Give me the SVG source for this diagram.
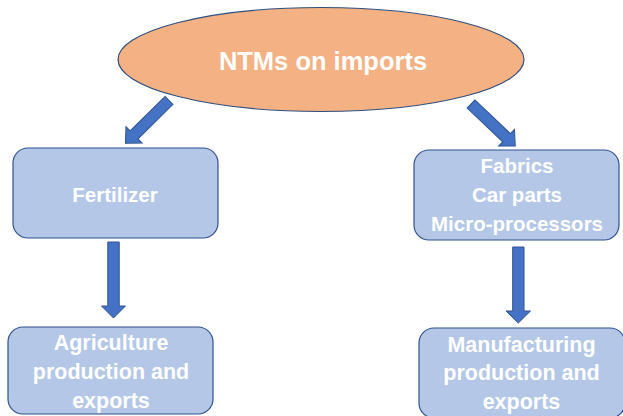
<svg xmlns="http://www.w3.org/2000/svg" width="623" height="416" viewBox="0 0 623 416">
<style>
.box{fill:#B4C7E7;stroke:#2F528F;stroke-width:1.2}
.arr{fill:#4472C4;stroke:#2F528F;stroke-width:1}
.t{font-family:"Liberation Sans",Arial,sans-serif;font-weight:bold;fill:#FFFFFF;text-anchor:middle}
</style>
<defs>
<path id="diag" d="M0,-5.6 L49,-5.6 L49,-11.5 L61,0 L49,11.5 L49,5.6 L0,5.6 Z"/>
</defs>
<rect width="623" height="416" fill="#FFFFFF"/>
<g id="ntms">
<ellipse cx="321" cy="59.5" rx="203" ry="52" fill="#F4B183" stroke="#2F4F7F" stroke-width="1.2"/>
<text class="t" x="323" y="70" font-size="25.5">NTMs on imports</text>
</g>
<g id="fertilizer">
<rect class="box" x="13" y="148" width="205" height="90" rx="15"/>
<text class="t" x="115" y="202" font-size="20.5">Fertilizer</text>
</g>
<g id="agriculture">
<rect class="box" x="8" y="327" width="205" height="87" rx="15"/>
<text class="t" x="111" y="350" font-size="21.5">Agriculture</text>
<text class="t" x="111" y="379" font-size="21.5">production and</text>
<text class="t" x="111" y="408" font-size="21.5">exports</text>
</g>
<g id="fabrics">
<rect class="box" x="414" y="150" width="205" height="90" rx="15"/>
<text class="t" x="517" y="173" font-size="20.5">Fabrics</text>
<text class="t" x="517" y="202" font-size="20.5">Car parts</text>
<text class="t" x="517" y="231" font-size="20.5">Micro-processors</text>
</g>
<g id="manufacturing">
<rect class="box" x="419" y="328" width="206" height="90" rx="15"/>
<text class="t" x="521.5" y="352" font-size="21.5">Manufacturing</text>
<text class="t" x="521.5" y="380" font-size="21.5">production and</text>
<text class="t" x="521.5" y="409" font-size="21.5">exports</text>
</g>
<g id="connectors">
<use href="#diag" class="arr" transform="translate(169,100.5) rotate(135.5)"/>
<use href="#diag" class="arr" transform="translate(471,104) rotate(43.5)"/>
<path class="arr" d="M107.8,242 L119.2,242 L119.2,306 L125.5,306 L113.5,318 L101.5,306 L107.8,306 Z"/>
<path class="arr" d="M512.7,247 L524,247 L524,311 L530.5,311 L518.3,323 L506,311 L512.7,311 Z"/>
</g>
</svg>
